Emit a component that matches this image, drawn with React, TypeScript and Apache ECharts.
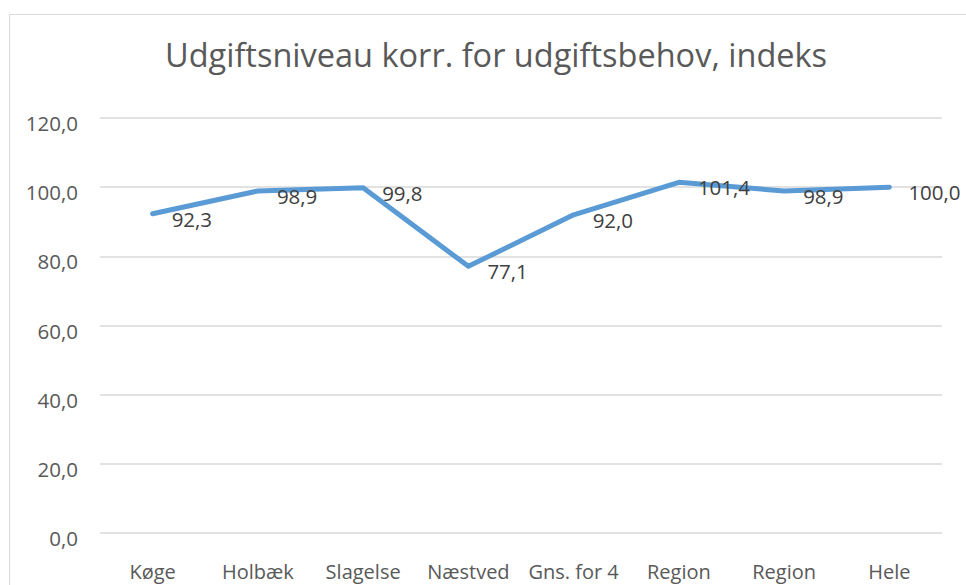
import React, { useEffect, useRef } from "react";
import * as echarts from "echarts";

const titleText = "Udgiftsniveau korr. for udgiftsbehov, indeks";
const categories = ["Køge", "Holbæk", "Slagelse", "Næstved", "Gns. for 4", "Region", "Region", "Hele"];
const values = [92.3, 98.9, 99.8, 77.1, 92.0, 101.4, 98.9, 100.0];
const yMin = 0;
const yMax = 120;
const yInterval = 20;

const fmt = (v: number) => v.toFixed(1).replace(".", ",");
const FONT = "Open Sans";

export default function App() {
  const ref = useRef<HTMLDivElement>(null);
  useEffect(() => {
    if (!ref.current) return;
    const chart = echarts.init(ref.current, null, { renderer: "svg" });
    chart.setOption({
      animation: false,
      backgroundColor: "#ffffff",
      title: {
        text: titleText,
        left: 160,
        top: 33,
        textStyle: { fontFamily: FONT, fontSize: 32.5, fontWeight: "normal", color: "#595959" },
      },
      graphic: [
        {
          type: "rect",
          shape: { x: 9.5, y: 14.5, width: 1000, height: 1000 },
          style: { fill: "none", stroke: "#d9d9d9", lineWidth: 1 },
          silent: true,
        },
      ],
      grid: { left: 100, right: 24, top: 118, bottom: 52, containLabel: false },
      xAxis: {
        type: "category",
        data: categories,
        boundaryGap: true,
        axisLine: { show: false },
        axisTick: { show: false },
        axisLabel: { fontFamily: FONT, fontSize: 20, color: "#595959", margin: 28, interval: 0 },
      },
      yAxis: {
        type: "value",
        min: yMin,
        max: yMax,
        interval: yInterval,
        axisLine: { show: false },
        axisTick: { show: false },
        splitLine: { lineStyle: { color: "#d9d9d9", width: 1.5 } },
        axisLabel: {
          fontFamily: FONT,
          fontSize: 20.5,
          color: "#595959",
          margin: 22,
          formatter: (v: number) => "{t|" + fmt(v) + "}",
          rich: {
            t: {
              fontFamily: FONT,
              fontSize: 20.5,
              color: "#595959",
              padding: [10, 0, 0, 0],
            },
          },
        },
      },
      series: [
        {
          type: "line",
          data: values,
          showSymbol: true,
          symbol: "circle",
          symbolSize: 0,
          lineStyle: { color: "#5b9bd5", width: 5, cap: "round", join: "round" },
          itemStyle: { color: "#5b9bd5" },
          label: {
            show: true,
            position: "right",
            distance: 19,
            offset: [0, 5],
            fontFamily: FONT,
            fontSize: 20.5,
            color: "#404040",
            formatter: (p: any) => fmt(p.value),
          },
        },
      ],
    });
    return () => chart.dispose();
  }, []);
  return (
    <div
      ref={ref}
      style={{ position: "fixed", left: 0, top: 0, width: 966, height: 585 }}
    />
  );
}
